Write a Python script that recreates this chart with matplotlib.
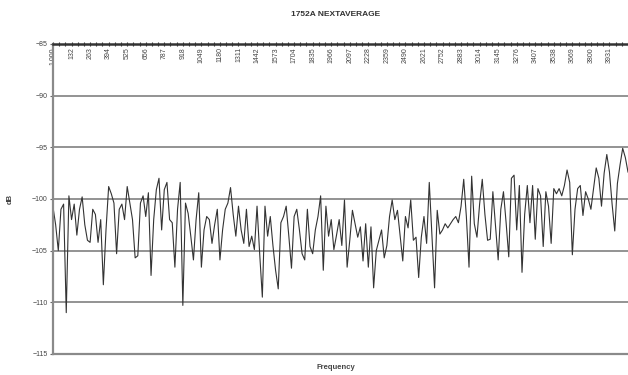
import matplotlib
matplotlib.use("Agg")
import matplotlib.pyplot as plt
from matplotlib.ticker import MultipleLocator
import numpy as np

plt.rcParams["font.family"] = "Liberation Sans"

# NEXT average in dB (equally spaced frequency points)
db_part1 = [-100.8, -102.5, -105.0, -101.0, -100.5,
            -111.0, -99.7, -102.0, -100.5, -103.5,
            -101.0, -99.8, -102.5, -104.0, -104.2,
            -101.0, -101.5, -104.2, -102.0, -108.3,
            -103.0, -98.8, -99.5, -100.4, -105.3,
            -101.0, -100.5, -102.0, -98.8, -100.4,
            -102.0, -105.7, -105.5, -100.4, -99.7,
            -101.7, -99.4, -107.4, -102.0, -99.1,
            -98.0, -103.0, -99.1, -98.4, -102.0,
            -102.3, -106.6, -101.0, -98.4, -110.3,
            -100.4, -101.4, -103.6, -105.9, -102.0]
db_part2 = [-99.4, -106.6, -103.0, -101.7, -102.0, -104.3, -102.5, -101.0, -105.9, -103.0,
            -101.0, -100.4, -98.9, -101.5, -103.6, -100.7, -103.0, -104.3, -101.0, -104.6,
            -103.6, -104.9, -100.7, -105.3, -109.5, -100.7, -103.6, -101.7, -104.5, -106.9,
            -108.7, -102.3, -101.7, -100.7, -103.6, -106.7, -101.7, -101.0, -103.0, -105.3,
            -105.9, -101.0, -104.6, -105.3, -103.0, -101.7, -99.7, -106.9, -100.7, -103.6,
            -102.0, -104.9, -103.5, -102.0, -104.5]
db_part3 = [-100.1, -106.6, -104.0, -101.1, -102.4, -103.7, -102.7, -106.0, -102.4, -106.6,
            -102.7, -108.6, -105.0, -104.0, -103.0, -105.7, -104.5, -101.7, -100.1, -102.0,
            -101.1, -103.5, -106.0, -101.7, -102.8, -100.1, -104.0, -103.7, -107.6, -103.7,
            -101.7, -104.3, -98.4, -103.4, -108.6, -101.1, -103.4, -103.0, -102.4, -102.8,
            -102.4, -102.0, -101.7, -102.3, -100.7, -98.1, -101.7, -106.6, -97.8, -102.4,
            -103.7, -100.5, -98.1, -101.5, -104.0]
db_part4 = [-103.9, -99.3, -102.6, -105.9, -101.0, -99.3, -102.3, -105.6, -98.0, -97.7,
            -103.0, -98.7, -107.1, -101.5, -98.7, -102.3, -98.7, -103.9, -99.0, -99.7,
            -104.6, -99.3, -100.7, -104.3, -99.0, -99.5, -99.0, -99.7, -98.7, -97.2,
            -98.4, -105.4, -101.0, -99.0, -98.7, -101.6, -99.3, -100.0, -101.0, -99.0,
            -97.0, -98.0, -100.7, -97.5, -95.7, -97.4, -100.5, -103.1, -98.5, -96.7,
            -95.1, -96.0, -97.4]

freq_labels = ["1.000", "132", "263", "394", "525", "656", "787", "918",
               "1049", "1180", "1311", "1442", "1573", "1704", "1835", "1966",
               "2097", "2228", "2359", "2490", "2621", "2752", "2883", "3014",
               "3145", "3276", "3407", "3538", "3669", "3800", "3931"]

db = db_part1 + db_part2 + db_part3 + db_part4
x = np.arange(len(db))

fig = plt.figure(figsize=(6.28, 3.75), dpi=100)
ax = fig.add_axes([0.0844, 0.056, 0.9156, 0.827])

ax.plot(x, db, color="#333333", linewidth=0.8)

ax.set_xlim(0, len(db) - 1)
ax.set_ylim(-115, -85)
ax.set_yticks([-115, -110, -105, -100, -95, -90, -85])
ax.grid(axis="y", color="#8a8a8a", linewidth=1.3)
ax.set_axisbelow(True)

# one label every 7 points, labels hang below the axis line at the top
step = 7
ax.set_xticks([i * step for i in range(len(freq_labels))])
ax.set_xticklabels(freq_labels, rotation=90, fontsize=5, color="#444444")
ax.xaxis.set_minor_locator(MultipleLocator(step / 3))
ax.xaxis.tick_top()
ax.tick_params(axis="x", which="both", direction="inout", length=3, width=0.8,
               colors="#333333")
ax.tick_params(axis="x", labelcolor="#444444", pad=-4)
for lbl in ax.get_xticklabels():
    lbl.set_va("top")
ax.tick_params(axis="y", labelsize=5, length=2, colors="#666666", labelcolor="#444444", pad=2)

ax.spines["right"].set_visible(False)
ax.spines["top"].set_color("#333333")
ax.spines["top"].set_linewidth(1.8)
ax.spines["left"].set_color("#8a8a8a")
ax.spines["left"].set_linewidth(1.6)
ax.spines["bottom"].set_color("#8a8a8a")
ax.spines["bottom"].set_linewidth(1.6)

fig.text(0.535, 0.962, "1752A NEXTAVERAGE", ha="center", va="center",
         fontsize=6, fontweight="bold", color="#333333")
fig.text(0.535, 0.021, "Frequency", ha="center", va="center", fontsize=5.5,
         fontweight="bold", color="#444444")
fig.text(0.016, 0.47, "dB", ha="center", va="center", fontsize=5.5,
         rotation=90, fontweight="bold", color="#444444")

fig.savefig("out.png", dpi=100)
